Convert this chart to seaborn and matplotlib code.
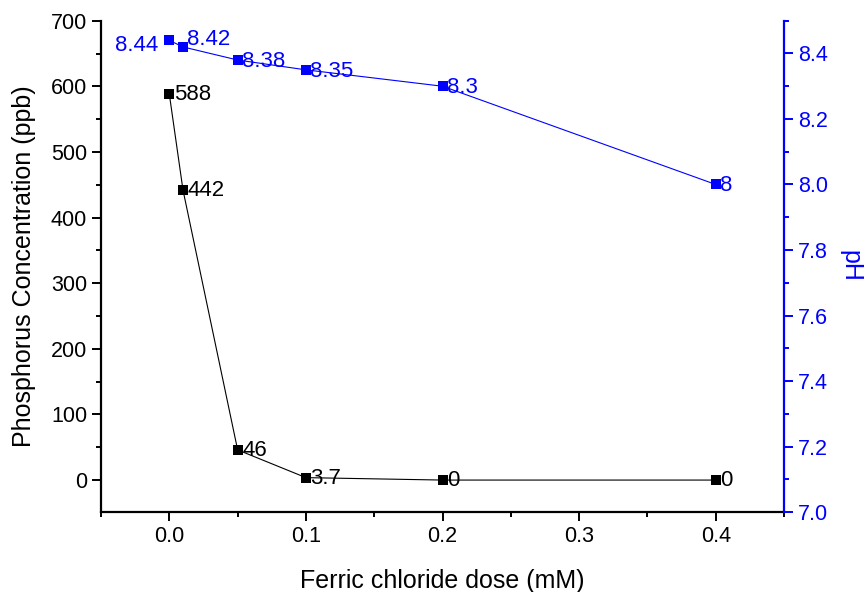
import matplotlib
matplotlib.use("Agg")
import matplotlib.pyplot as plt
from matplotlib.ticker import MultipleLocator
import seaborn as sns
import pandas as pd

dose = [0.0, 0.01, 0.05, 0.1, 0.2, 0.4]
phosphorus = [588, 442, 46, 3.7, 0, 0]
phosphorus_labels = ["588", "442", "46", "3.7", "0", "0"]
ph = [8.44, 8.42, 8.38, 8.35, 8.3, 8.0]
ph_labels = ["8.44", "8.42", "8.38", "8.35", "8.3", "8"]

df_p = pd.DataFrame({"dose": dose, "P": phosphorus})
df_h = pd.DataFrame({"dose": dose, "pH": ph})

sns.set_style("ticks")
plt.rcParams["font.family"] = ["Liberation Sans", "DejaVu Sans"]
plt.rcParams.update({"text.color": "black", "axes.labelcolor": "black",
                     "xtick.color": "black", "ytick.color": "black",
                     "axes.edgecolor": "black"})

fig = plt.figure(figsize=(8.65, 5.92), dpi=100)
ax = fig.add_axes([0.1168, 0.1351, 0.7896, 0.8299])
ax2 = ax.twinx()

BLUE = "#0000FF"

sns.lineplot(data=df_p, x="dose", y="P", ax=ax, color="black", marker="s",
             markersize=6.8, markeredgewidth=0, linewidth=0.8)
sns.lineplot(data=df_h, x="dose", y="pH", ax=ax2, color=BLUE, marker="s",
             markersize=6.8, markeredgewidth=0, linewidth=0.8)

for x, y, t in zip(dose, phosphorus, phosphorus_labels):
    ax.annotate(t, (x, y), xytext=(3.2, -0.5), textcoords="offset points",
                ha="left", va="center", fontsize=16, color="black")

ph_offsets = [(-8, -3.5), (3.2, 5), (3.2, -1), (3.2, -1), (3.2, -1), (3.2, -0.5)]
for (x, y, t), off in zip(zip(dose, ph, ph_labels), ph_offsets):
    ax2.annotate(t, (x, y), xytext=off, textcoords="offset points",
                 ha="right" if off[0] < 0 else "left", va="center",
                 fontsize=16, color=BLUE)

ax.set_xlim(-0.05, 0.45)
ax.set_ylim(-48.7, 700)
ax2.set_ylim(7.0, 8.5)

ax.xaxis.set_major_locator(MultipleLocator(0.1))
ax.xaxis.set_minor_locator(MultipleLocator(0.05))
ax.yaxis.set_major_locator(MultipleLocator(100))
ax.yaxis.set_minor_locator(MultipleLocator(50))
ax2.yaxis.set_major_locator(MultipleLocator(0.2))
ax2.yaxis.set_minor_locator(MultipleLocator(0.1))

ax.set_xticks([0.0, 0.1, 0.2, 0.3, 0.4])
ax.set_xticklabels(["0.0", "0.1", "0.2", "0.3", "0.4"])

ax.set_xlabel("Ferric chloride dose (mM)", fontsize=18, labelpad=16)
ax.set_ylabel("Phosphorus Concentration (ppb)", fontsize=18, labelpad=11)
ax2.set_ylabel("pH", fontsize=18, color=BLUE, rotation=-90, labelpad=25)

for a in (ax, ax2):
    a.spines["top"].set_visible(False)
ax.spines["right"].set_visible(False)
ax2.spines["left"].set_visible(False)
ax2.spines["bottom"].set_visible(False)
ax2.spines["right"].set_color(BLUE)
ax2.spines["right"].set_linewidth(1.6)
ax.spines["left"].set_linewidth(1.6)
ax.spines["bottom"].set_linewidth(1.6)

ax.tick_params(axis="both", which="major", direction="out", length=6.5, width=1.4,
               labelsize=15.5, colors="black")
ax.tick_params(axis="both", which="minor", direction="out", length=3.5, width=1.4,
               colors="black")
ax2.tick_params(axis="y", which="major", direction="out", length=6.5, width=1.4,
                labelsize=15.5, colors=BLUE)
ax2.tick_params(axis="y", which="minor", direction="out", length=3.5, width=1.4,
                colors=BLUE)

fig.savefig("out.png", dpi=100)
